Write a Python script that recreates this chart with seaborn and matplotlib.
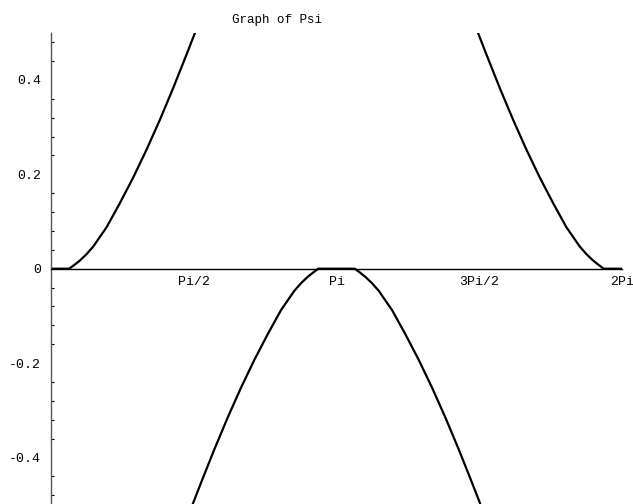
import numpy as np
import pandas as pd
import matplotlib
matplotlib.use("Agg")
import matplotlib.pyplot as plt
from matplotlib.ticker import FixedLocator, FixedFormatter, MultipleLocator
import seaborn as sns

# Psi sampled on [0, 2Pi]; the curve leaves the window at |Psi| = 0.5,
# so it is stored as three visible branches.
x_left = [0.0, 0.201, 0.260, 0.319, 0.392, 0.465, 0.612, 0.758, 0.904, 1.051,
          1.197, 1.343, 1.490, 1.585]
psi_left = [0.0, 0.0, 0.0085, 0.0175, 0.031, 0.047, 0.088, 0.139, 0.193, 0.252,
            0.315, 0.382, 0.453, 0.500]

x_mid = [1.557, 1.652, 1.799, 1.945, 2.091, 2.238, 2.384, 2.530, 2.677, 2.750,
         2.823, 2.882, 2.941, 3.343, 3.402, 3.461, 3.534, 3.607, 3.754, 3.900,
         4.046, 4.193, 4.339, 4.485, 4.632, 4.727]
psi_mid = [-0.500, -0.453, -0.382, -0.315, -0.252, -0.193, -0.139, -0.088, -0.047, -0.031,
           -0.0175, -0.0085, 0.0, 0.0, -0.0085, -0.0175, -0.031, -0.047, -0.088, -0.139,
           -0.193, -0.252, -0.315, -0.382, -0.453, -0.500]

x_right = [4.698, 4.793, 4.940, 5.086, 5.232, 5.379, 5.525, 5.671, 5.818, 5.891,
           5.964, 6.023, 6.082, 6.283]
psi_right = [0.500, 0.453, 0.382, 0.315, 0.252, 0.193, 0.139, 0.088, 0.047, 0.031,
             0.0175, 0.0085, 0.0, 0.0]

x_tick_values = [np.pi / 2, np.pi, 3 * np.pi / 2, 2 * np.pi]
x_tick_labels = ["Pi/2", "Pi", "3Pi/2", "2Pi"]
y_tick_values = [-0.4, -0.2, 0.0, 0.2, 0.4]
y_tick_labels = ["-0.4", "-0.2", "0", "0.2", "0.4"]

df = pd.concat([
    pd.DataFrame({"x": x_left, "psi": psi_left, "branch": 0}),
    pd.DataFrame({"x": x_mid, "psi": psi_mid, "branch": 1}),
    pd.DataFrame({"x": x_right, "psi": psi_right, "branch": 2}),
], ignore_index=True)

sns.set_theme(style="white")
plt.rcParams["font.family"] = ["Liberation Mono", "DejaVu Sans Mono"]

W, H = 633, 504
fig = plt.figure(figsize=(W / 100, H / 100), dpi=100)
ax = fig.add_axes([51 / W, 0.0, (622 - 51) / W, (504 - 32.7) / H])

sns.lineplot(data=df, x="x", y="psi", units="branch", estimator=None, sort=False,
             color="black", linewidth=1.6, ax=ax, legend=False)

ax.set_xlim(0, 2 * np.pi)
ax.set_ylim(-0.4985, 0.5)

for side in ("top", "right"):
    ax.spines[side].set_visible(False)
ax.spines["bottom"].set_position(("data", 0))
ax.spines["bottom"].set_color("black")
ax.spines["bottom"].set_linewidth(1.0)
ax.spines["left"].set_position(("data", 0))
ax.spines["left"].set_color("#555555")
ax.spines["left"].set_linewidth(1.0)

ax.xaxis.set_major_locator(FixedLocator(x_tick_values))
ax.xaxis.set_major_formatter(FixedFormatter(x_tick_labels))
ax.yaxis.set_major_locator(FixedLocator(y_tick_values))
ax.yaxis.set_major_formatter(FixedFormatter(y_tick_labels))
ax.yaxis.set_minor_locator(MultipleLocator(0.04))

ax.tick_params(axis="x", which="major", direction="in", length=3.5, width=0.8,
               color="black", labelsize=9.5, pad=5, labelcolor="black")
ax.tick_params(axis="y", which="major", direction="in", length=3.5, width=0.8,
               color="black", labelsize=9.5, pad=7, labelcolor="black")
ax.tick_params(axis="y", which="minor", direction="in", length=2.0, width=0.8,
               color="black", left=True)

ax.set_xlabel("")
ax.set_ylabel("")
ax.grid(False)

fig.text(277 / W, 1 - 23 / H, "Graph of Psi", ha="center", va="baseline",
         fontsize=9, color="black")

fig.savefig("out.png", dpi=100, facecolor="white")
